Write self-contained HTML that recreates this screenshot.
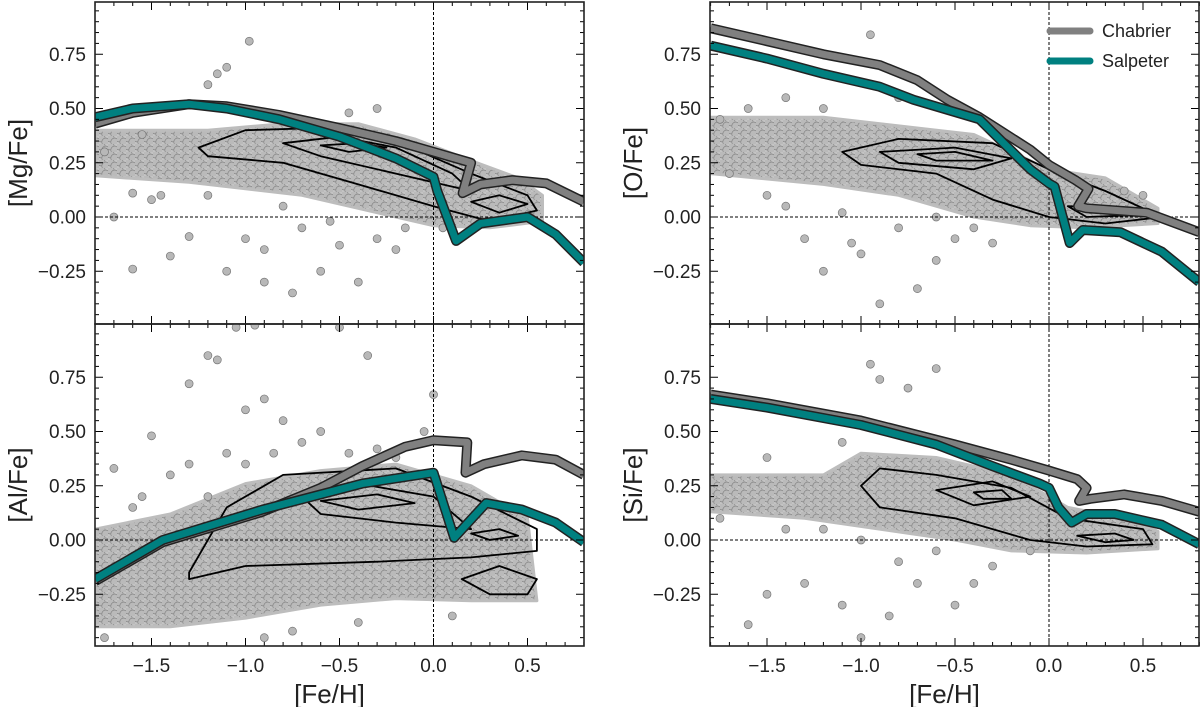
<!DOCTYPE html>
<html><head><meta charset="utf-8"><style>
body{margin:0;background:#fff}
svg{display:block;font-family:"Liberation Sans",sans-serif}
</style></head><body>
<svg id="fig" width="1200" height="707" viewBox="0 0 1200 707" xmlns="http://www.w3.org/2000/svg">
<defs>
<pattern id="dots" width="9" height="8" patternUnits="userSpaceOnUse">
<rect width="9" height="8" fill="#c4c4c4"/>
<circle cx="2.2" cy="2" r="3.9" fill="#bababa" stroke="#808080" stroke-width="0.6"/>
<circle cx="6.7" cy="6" r="3.9" fill="#bababa" stroke="#808080" stroke-width="0.6"/>
</pattern>
</defs>
</svg>
<script>
// ---- data ----
const xTicks=[-1.5,-1.0,-0.5,0.0,0.5];
const xTickLabels=["\u22121.5","\u22121.0","\u22120.5","0.0","0.5"];
const yTicks=[-0.25,0,0.25,0.5,0.75];
const yTickLabels=["\u22120.25","0.00","0.25","0.50","0.75"];
const mgChabrier=[[-1.8,0.43],[-1.6,0.48],[-1.3,0.52],[-1.1,0.51],[-0.82,0.47],[-0.5,0.41],[-0.2,0.35],[0,0.30],[0.2,0.25],[0.155,0.11],[0.25,0.15],[0.42,0.17],[0.6,0.155],[0.8,0.07]];
const mgSalpeter=[[-1.8,0.46],[-1.6,0.50],[-1.3,0.52],[-1.1,0.50],[-0.82,0.45],[-0.5,0.37],[-0.2,0.27],[0,0.185],[0.02,0.12],[0.12,-0.11],[0.25,-0.03],[0.5,0.0],[0.65,-0.08],[0.8,-0.21]];
const oChabrier=[[-1.8,0.87],[-1.5,0.81],[-1.2,0.75],[-0.9,0.70],[-0.7,0.63],[-0.54,0.54],[-0.37,0.46],[-0.1,0.31],[0,0.24],[0.14,0.17],[0.21,0.13],[0.155,0.05],[0.2,0.04],[0.52,0.02],[0.8,-0.07]];
const oSalpeter=[[-1.8,0.79],[-1.5,0.73],[-1.2,0.66],[-0.9,0.60],[-0.72,0.54],[-0.37,0.45],[-0.1,0.22],[0,0.155],[0.03,0.14],[0.11,-0.12],[0.18,-0.06],[0.38,-0.07],[0.6,-0.16],[0.8,-0.30]];
const alChabrier=[[-1.8,-0.19],[-1.44,-0.01],[-0.91,0.13],[-0.6,0.24],[-0.38,0.34],[-0.15,0.43],[0,0.46],[0.18,0.45],[0.17,0.31],[0.27,0.35],[0.47,0.39],[0.65,0.37],[0.8,0.30]];
const alSalpeter=[[-1.8,-0.18],[-1.44,0.0],[-0.91,0.14],[-0.38,0.26],[0,0.31],[0.11,0.01],[0.28,0.17],[0.47,0.14],[0.65,0.08],[0.8,-0.01]];
const siChabrier=[[-1.8,0.67],[-1.5,0.63],[-1.0,0.55],[-0.5,0.44],[-0.2,0.37],[0,0.32],[0.15,0.28],[0.2,0.24],[0.16,0.18],[0.22,0.19],[0.4,0.21],[0.6,0.18],[0.8,0.13]];
const siSalpeter=[[-1.8,0.65],[-1.5,0.61],[-1.0,0.53],[-0.6,0.44],[-0.3,0.34],[-0.05,0.26],[0,0.24],[0.05,0.15],[0.12,0.08],[0.2,0.12],[0.35,0.12],[0.6,0.07],[0.8,-0.02]];
const mgCloud=[[-1.8,0.40],[-1.2,0.40],[-0.8,0.43],[-0.4,0.43],[-0.1,0.36],[0.2,0.26],[0.45,0.18],[0.58,0.1],[0.58,-0.02],[0.3,-0.05],[0.0,-0.04],[-0.3,0.02],[-0.7,0.1],[-1.0,0.13],[-1.3,0.16],[-1.8,0.19]];
const oCloud=[[-1.8,0.46],[-1.2,0.46],[-0.8,0.42],[-0.4,0.38],[0,0.22],[0.3,0.18],[0.58,0.04],[0.58,-0.03],[0.2,-0.05],[-0.1,-0.04],[-0.4,0.0],[-0.8,0.1],[-1.2,0.15],[-1.8,0.2]];
const alCloud=[[-1.8,0.05],[-1.4,0.12],[-1.0,0.26],[-0.6,0.32],[-0.2,0.35],[0.2,0.25],[0.5,0.1],[0.55,-0.28],[0.2,-0.28],[-0.2,-0.27],[-0.6,-0.3],[-1.0,-0.36],[-1.4,-0.4],[-1.8,-0.4]];
const siCloud=[[-1.8,0.3],[-1.2,0.3],[-1.0,0.4],[-0.6,0.38],[-0.2,0.3],[0.1,0.15],[0.4,0.1],[0.58,0.04],[0.58,-0.04],[0.2,-0.06],[-0.2,-0.05],[-0.5,0.0],[-0.9,0.05],[-1.3,0.1],[-1.8,0.13]];
const mgContours=[[[-1.25,0.32],[-1.0,0.4],[-0.6,0.41],[-0.2,0.35],[0.2,0.2],[0.5,0.1],[0.55,0.03],[0.3,-0.02],[0.0,0.05],[-0.4,0.15],[-0.8,0.25],[-1.2,0.28]],[[-0.8,0.34],[-0.5,0.37],[-0.2,0.32],[0.1,0.2],[0.2,0.12],[-0.2,0.2],[-0.6,0.28]],[[-0.6,0.33],[-0.4,0.34],[-0.25,0.32],[-0.45,0.3]],[[0.2,0.07],[0.35,0.1],[0.5,0.06],[0.35,0.02]]];
const oContours=[[[-1.1,0.3],[-0.8,0.36],[-0.3,0.34],[0.0,0.22],[0.3,0.12],[0.6,0.0],[0.3,-0.03],[0.0,0.0],[-0.3,0.08],[-0.6,0.2],[-1.0,0.24]],[[-0.9,0.3],[-0.5,0.32],[-0.2,0.27],[-0.4,0.22],[-0.8,0.25]],[[-0.7,0.29],[-0.5,0.3],[-0.3,0.26],[-0.6,0.26]],[[0.1,0.05],[0.4,0.04],[0.5,0.01],[0.2,0.0]]];
const alContours=[[[-1.3,-0.15],[-1.1,0.15],[-0.8,0.3],[-0.2,0.33],[0.2,0.2],[0.55,0.05],[0.55,-0.05],[0.2,-0.08],[-0.3,-0.1],[-1.0,-0.12],[-1.3,-0.18]],[[-0.7,0.2],[-0.4,0.26],[0.0,0.2],[0.2,0.05],[-0.2,0.08],[-0.6,0.12]],[[-0.6,0.18],[-0.3,0.21],[-0.1,0.17],[-0.4,0.14]],[[0.2,0.03],[0.35,0.05],[0.45,0.02],[0.3,0.0]],[[0.15,-0.18],[0.35,-0.12],[0.55,-0.18],[0.5,-0.25],[0.3,-0.25]]];
const siContours=[[[-1.0,0.25],[-0.9,0.33],[-0.6,0.3],[-0.2,0.24],[0.1,0.1],[0.5,0.05],[0.55,-0.02],[0.2,-0.03],[-0.1,0.0],[-0.5,0.1],[-0.9,0.15]],[[-0.6,0.23],[-0.3,0.27],[-0.1,0.2],[-0.4,0.16]],[[-0.4,0.22],[-0.25,0.23],[-0.2,0.19],[-0.35,0.19]],[[0.15,0.02],[0.35,0.03],[0.45,0.0],[0.3,-0.01]]];
const mgOutliers=[[-1.2,0.61],[-1.15,0.66],[-1.1,0.69],[-0.98,0.81],[-1.6,-0.24],[-1.4,-0.18],[-1.3,-0.09],[-1.1,-0.25],[-0.9,-0.3],[-0.75,-0.35],[-0.6,-0.25],[-0.4,-0.3],[-0.9,-0.15],[-0.3,-0.1],[-0.2,-0.15],[-0.7,-0.05],[-1.7,0.0],[-1.5,0.08],[-1.6,0.11],[-1.75,0.3],[-1.55,0.38],[-1.0,-0.1],[0.05,-0.05],[-0.5,-0.13],[-0.45,0.48],[-0.3,0.5],[-1.45,0.1],[-1.2,0.1],[-0.8,0.05],[-0.55,-0.02],[-0.15,-0.05]];
const oOutliers=[[-1.75,0.45],[-1.6,0.5],[-1.4,0.55],[-1.5,0.1],[-1.3,-0.1],[-1.2,-0.25],[-0.95,0.84],[-1.0,-0.17],[-0.9,-0.4],[-0.7,-0.33],[-0.6,-0.2],[-0.5,-0.1],[-0.3,-0.12],[-0.8,0.55],[-1.7,0.2],[-1.2,0.5],[-0.4,-0.05],[-1.05,-0.12],[0.4,0.12],[0.5,0.1],[-1.4,0.05],[-1.1,0.02],[-0.8,-0.05],[-0.6,0.0]];
const alOutliers=[[-1.3,0.72],[-1.2,0.85],[-1.15,0.83],[-1.05,0.98],[-0.95,0.99],[-0.35,0.85],[-0.5,0.98],[-1.0,0.6],[-0.9,0.65],[-0.8,0.55],[-0.7,0.45],[-0.6,0.5],[-1.5,0.48],[-1.7,0.33],[-1.4,0.3],[-1.1,0.4],[-0.3,0.42],[-0.2,0.38],[0,0.67],[-0.05,0.5],[-1.2,0.2],[-1.6,0.15],[-1.75,-0.45],[-0.9,-0.45],[-1.3,0.35],[-0.85,0.4],[-0.45,0.4],[-1.0,0.35],[-0.75,-0.42],[-0.4,-0.38],[0.1,-0.35],[-1.55,0.2]];
const siOutliers=[[-0.95,0.81],[-0.9,0.74],[-0.75,0.7],[-0.6,0.79],[-1.6,-0.39],[-1.5,-0.25],[-1.3,-0.2],[-1.1,-0.3],[-1.0,-0.45],[-0.85,-0.35],[-0.7,-0.2],[-0.5,-0.3],[-0.4,-0.2],[-0.3,-0.12],[-0.1,-0.05],[-0.8,-0.1],[-1.75,0.1],[-1.4,0.05],[-1.1,0.45],[-0.8,0.5],[-1.2,0.05],[-1.0,0.0],[-0.6,-0.05],[-1.5,0.38]];

const NS="http://www.w3.org/2000/svg";
const svg=document.getElementById('fig');
function mk(tag,attrs,parent){const e=document.createElementNS(NS,tag);for(const k in attrs)e.setAttribute(k,attrs[k]);(parent||svg).appendChild(e);return e;}

function panel(name,left,top,zeroX,zeroY,yLabel,curves,cloud,contours,outliers,showX){
  const W=489,H=322,sx=188,sy=217;
  const X=v=>zeroX+v*sx, Y=v=>zeroY-v*sy;
  const g=mk('g',{});
  
  
  const clipId='clip-'+name;
  const cp=mk('clipPath',{id:clipId},g);mk('rect',{x:left,y:top,width:W,height:H},cp);
  const inner=mk('g',{'clip-path':'url(#'+clipId+')'},g);
  const pts=a=>a.map(p=>X(p[0]).toFixed(1)+','+Y(p[1]).toFixed(1)).join(' ');
  const c=mk('polygon',{points:pts(cloud),fill:'url(#dots)',stroke:'#bdbdbd','stroke-width':3,'stroke-linejoin':'round'},inner);
  
  
  outliers.forEach(p=>{const o=mk('circle',{cx:X(p[0]),cy:Y(p[1]),r:4,fill:'#b8b8b8',stroke:'#777','stroke-width':0.7},inner);
    
    });
  contours.forEach(ct=>{const l=mk('polygon',{points:pts(ct),fill:'none',stroke:'#000','stroke-width':1.8,'stroke-linejoin':'round'},inner);
    
    });
  const z1=mk('line',{x1:left,x2:left+W,y1:Y(0),y2:Y(0),stroke:'#000','stroke-width':1,'stroke-dasharray':'3,2'},inner);
  
  
  const z2=mk('line',{x1:X(0),x2:X(0),y1:top,y2:top+H,stroke:'#000','stroke-width':1,'stroke-dasharray':'3,2'},inner);
  
  
  curves.forEach(cv=>{
    mk('polyline',{points:pts(cv.d),fill:'none',stroke:'#222','stroke-width':10,'stroke-linejoin':'round'},inner);
    const l=mk('polyline',{points:pts(cv.d),fill:'none',stroke:cv.c,'stroke-width':7,'stroke-linejoin':'round'},inner);
    
    
  });
  for(let i=-18;i<=8;i++){const v=i/10,px=X(v),maj=(i%5===0),L=maj?8:4;
    mk('line',{x1:px,x2:px,y1:top+H,y2:top+H-L,stroke:'#000','stroke-width':1},g);
    mk('line',{x1:px,x2:px,y1:top,y2:top+L,stroke:'#000','stroke-width':1},g);}
  for(let i=-9;i<=19;i++){const v=i/20,py=Y(v);if(py<top||py>top+H)continue;const maj=(i%5===0),L=maj?8:4;
    mk('line',{x1:left,x2:left+L,y1:py,y2:py,stroke:'#000','stroke-width':1},g);
    mk('line',{x1:left+W,x2:left+W-L,y1:py,y2:py,stroke:'#000','stroke-width':1},g);}
  yTicks.forEach((v,i)=>{const t=mk('text',{x:left-9,y:Y(v)+6.5,'text-anchor':'end','font-size':19,fill:'#222'},g);t.textContent=yTickLabels[i];
    
    });
  if(showX){xTicks.forEach((v,i)=>{const t=mk('text',{x:X(v),y:top+H+26,'text-anchor':'middle','font-size':19,fill:'#222'},g);t.textContent=xTickLabels[i];
    
    });
    const xl=mk('text',{x:left+W/2-10,y:top+H+57,'text-anchor':'middle','font-size':26,fill:'#222'},g);xl.textContent='[Fe/H]';
    
    }
  const yl=mk('text',{x:0,y:0,'text-anchor':'middle','font-size':26,fill:'#222',transform:'translate('+(left-68)+','+(top+H/2)+') rotate(-90)'},g);yl.textContent=yLabel;
  
  
  const fr=mk('rect',{x:left,y:top,width:W,height:H,fill:'none',stroke:'#222','stroke-width':1.6},g);
  
  
  return g;
}
const G='#808080',T='#008080';
panel('mg',95,2,433.5,217,'[Mg/Fe]',[{n:'chabrier',c:G,d:mgChabrier},{n:'salpeter',c:T,d:mgSalpeter}],mgCloud,mgContours,mgOutliers,false);
panel('al',95,324,433.5,540,'[Al/Fe]',[{n:'chabrier',c:G,d:alChabrier},{n:'salpeter',c:T,d:alSalpeter}],alCloud,alContours,alOutliers,true);
panel('o',710,2,1049,217,'[O/Fe]',[{n:'chabrier',c:G,d:oChabrier},{n:'salpeter',c:T,d:oSalpeter}],oCloud,oContours,oOutliers,false);
panel('si',710,324,1049,540,'[Si/Fe]',[{n:'chabrier',c:G,d:siChabrier},{n:'salpeter',c:T,d:siSalpeter}],siCloud,siContours,siOutliers,true);
const lg=mk('g',{});


[['Chabrier',G,31],['Salpeter',T,61]].forEach(e=>{
  const l=mk('line',{x1:1050,x2:1090,y1:e[2],y2:e[2],stroke:e[1],'stroke-width':7,'stroke-linecap':'round'},lg);
  
  
  const t=mk('text',{x:1102,y:e[2]+6,'font-size':18,fill:'#222'},lg);t.textContent=e[0];
  
  
});
</script>
</body></html>
